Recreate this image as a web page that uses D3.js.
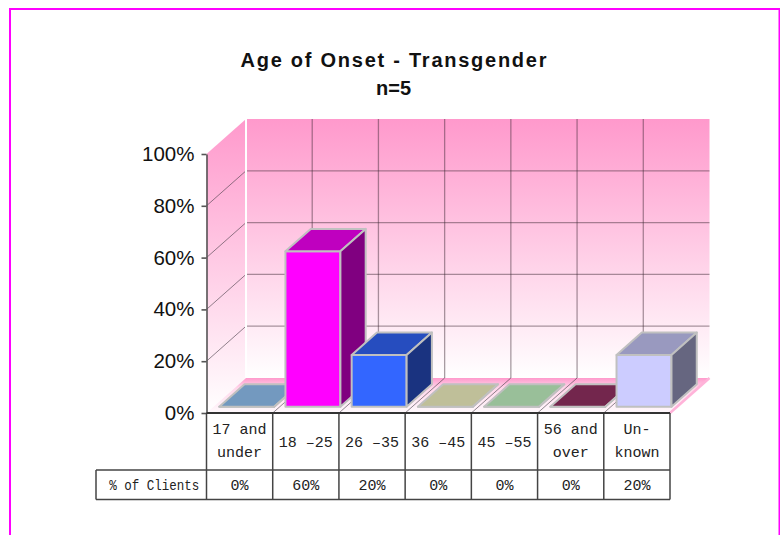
<!DOCTYPE html>
<html>
<head>
<meta charset="utf-8">
<script src="https://cdn.jsdelivr.net/npm/d3@7"></script>
<style>
  html, body { margin: 0; padding: 0; background: #fff; }
  svg { display: block; }
</style>
</head>
<body>
<svg id="chart" width="780" height="535"></svg>
<script>
// ---- data ----
const categories = ["17 and\nunder", "18 –25", "26 –35", "36 –45", "45 –55", "56 and\nover", "Un-\nknown"];
const values = [0, 60, 20, 0, 0, 0, 20];
const yTicks = [0, 20, 40, 60, 80, 100];
const rowHeader = "% of Clients";
const title = "Age of Onset - Transgender";
const subtitle = "n=5";
const palette = ["#99ccff", "#ff00ff", "#3366ff", "#ffffcc", "#ccffcc", "#993366", "#ccccff"];

// ---- layout ----
const svg = d3.select("#chart");
const x0 = 206.5, x1 = 670;        // front edge of the plot
const yBase = 413, yTop = 154;     // 0% and 100% on the front plane
const DX = 39.5, DY = -35;         // depth of the box
const F0 = 0.18, F1 = 0.82;        // bar front/back as share of depth

const x = d3.scaleBand().domain(d3.range(categories.length)).range([x0, x1])
  .paddingInner(0.17).paddingOuter(0.085);
const xCat = d3.scaleBand().domain(d3.range(categories.length)).range([x0, x1]);
const y = d3.scaleLinear().domain([0, 100]).range([yBase, yTop]);
const bounds = d3.range(categories.length + 1).map(i => x0 + i * xCat.step());

const shade = (c, k) => { const r = d3.rgb(c); return d3.rgb(r.r * k, r.g * k, r.b * k).formatHex(); };
const pts = a => a.map(p => p.join(",")).join(" ");

// ---- gradients ----
const defs = svg.append("defs");
function grad(id, ya, yb, stops) {
  const g = defs.append("linearGradient").attr("id", id)
    .attr("gradientUnits", "userSpaceOnUse")
    .attr("x1", 0).attr("x2", 0).attr("y1", ya).attr("y2", yb);
  stops.forEach(([o, c]) => g.append("stop").attr("offset", o).attr("stop-color", c));
}
grad("backWall", y(100) + DY, yBase + DY, [[0, "#ff99cc"], [1, "#ffffff"]]);
grad("sideWall", y(100) + DY, yBase, [[0, "#ff99cc"], [1, "#ffffff"]]);
grad("floorFill", yBase + DY, yBase, [[0, "#ff99cc"], [0.28, "#ffd6ea"], [1, "#fffafd"]]);

// ---- frame ----
svg.append("rect").attr("x", 10).attr("y", 9).attr("width", 769.5).attr("height", 600)
  .attr("fill", "none").attr("stroke", "#ff00ff").attr("stroke-width", 2);

// ---- title ----
svg.append("text").attr("x", 393.5).attr("y", 67)
  .attr("text-anchor", "middle").attr("font-family", "Liberation Sans, Arial, sans-serif")
  .attr("font-weight", "bold").attr("font-size", 20).attr("fill", "#111")
  .attr("textLength", 306).attr("lengthAdjust", "spacing")
  .text(title);
svg.append("text").attr("x", 393.5).attr("y", 95)
  .attr("text-anchor", "middle").attr("font-family", "Liberation Sans, Arial, sans-serif")
  .attr("font-weight", "bold").attr("font-size", 20).attr("fill", "#111")
  .text(subtitle);

// ---- walls ----
svg.append("polygon")
  .attr("points", pts([[x0 + DX, y(100) + DY], [x1 + DX, y(100) + DY], [x1 + DX, yBase + DY], [x0 + DX, yBase + DY]]))
  .attr("fill", "url(#backWall)");
svg.append("polygon")
  .attr("points", pts([[x0, y(100)], [x0 + DX, y(100) + DY], [x0 + DX, yBase + DY], [x0, yBase]]))
  .attr("fill", "url(#sideWall)");

const grid = svg.append("g").attr("fill", "none");
// horizontal lines on the back wall
grid.selectAll(".hb").data(yTicks.filter(t => t > 0 && t < 100)).join("line")
  .attr("x1", x0 + DX).attr("x2", x1 + DX)
  .attr("y1", d => y(d) + DY).attr("y2", d => y(d) + DY)
  .attr("stroke", "rgba(60,40,50,0.45)").attr("stroke-width", 1.3);
// vertical lines on the back wall
grid.selectAll(".vb").data(bounds.slice(1, -1)).join("line")
  .attr("x1", d => d + DX).attr("x2", d => d + DX)
  .attr("y1", y(100) + DY).attr("y2", yBase + DY)
  .attr("stroke", "rgba(60,40,50,0.45)").attr("stroke-width", 1.3);
// diagonals on the side wall
grid.selectAll(".hs").data(yTicks.filter(t => t > 0 && t < 100)).join("line")
  .attr("x1", x0).attr("x2", x0 + DX)
  .attr("y1", d => y(d)).attr("y2", d => y(d) + DY)
  .attr("stroke", "rgba(70,60,70,0.6)").attr("stroke-width", 1);
// corner between the two walls
grid.append("line").attr("x1", x0 + DX).attr("x2", x0 + DX)
  .attr("y1", y(100) + DY).attr("y2", yBase + DY)
  .attr("stroke", "#ffffff").attr("stroke-width", 2);

// ---- floor ----
svg.append("polygon")
  .attr("points", pts([[x0, yBase], [x1, yBase], [x1 + DX, yBase + DY], [x0 + DX, yBase + DY]]))
  .attr("fill", "url(#floorFill)");
svg.append("line").attr("x1", x1).attr("y1", yBase).attr("x2", x1 + DX).attr("y2", yBase + DY)
  .attr("stroke", "#ffb3d9").attr("stroke-width", 2.5);
svg.append("g").selectAll("line").data(bounds.slice(1, -1)).join("line")
  .attr("x1", d => d).attr("y1", yBase).attr("x2", d => d + DX).attr("y2", yBase + DY)
  .attr("stroke", "rgba(70,60,70,0.6)").attr("stroke-width", 1);

// ---- bars ----
const dx = DX * (F1 - F0), dy = DY * (F1 - F0);
const bars = svg.append("g").attr("stroke", "#c0c0c0").attr("stroke-width", 2)
  .attr("stroke-linejoin", "round");
values.forEach((v, i) => {
  const L = x(i) + DX * F0, R = L + x.bandwidth();
  const B = y(0) + DY * F0, T = y(v) + DY * F0;
  const g = bars.append("g");
  g.append("polygon").attr("points", pts([[L, B], [R, B], [R, T], [L, T]]))
    .attr("fill", palette[i]);
  g.append("polygon").attr("points", pts([[L, T], [R, T], [R + dx, T + dy], [L + dx, T + dy]]))
    .attr("fill", shade(palette[i], 0.75));
  g.append("polygon").attr("points", pts([[R, T], [R + dx, T + dy], [R + dx, B + dy], [R, B]]))
    .attr("fill", shade(palette[i], 0.5));
});

// ---- value axis ----
const yAxis = svg.append("g").attr("transform", `translate(${x0},0)`)
  .call(d3.axisLeft(y).tickValues(yTicks).tickFormat(d => d + "%")
    .tickSize(5).tickSizeOuter(0).tickPadding(7));
yAxis.select(".domain").attr("stroke", "#555").attr("stroke-width", 1.6);
yAxis.selectAll(".tick line").attr("stroke", "#555").attr("stroke-width", 1.6);
yAxis.selectAll(".tick text").attr("font-family", "Liberation Sans, Arial, sans-serif")
  .attr("font-size", 20.5).attr("fill", "#111");

// ---- data table ----
const rowTop = yBase, rowMid = 470, rowBot = 499.5, headLeft = 96;
const tbl = svg.append("g").attr("stroke", "#444").attr("stroke-width", 1.5).attr("fill", "none");
tbl.selectAll(".col").data(bounds).join("line")
  .attr("x1", d => d).attr("x2", d => d).attr("y1", rowTop).attr("y2", rowBot);
tbl.append("line").attr("x1", headLeft).attr("x2", headLeft).attr("y1", rowMid).attr("y2", rowBot);
tbl.append("line").attr("x1", headLeft).attr("x2", x1).attr("y1", rowMid).attr("y2", rowMid);
tbl.append("line").attr("x1", headLeft).attr("x2", x1).attr("y1", rowBot).attr("y2", rowBot);
// baseline of the plot
svg.append("line").attr("x1", x0).attr("x2", x1).attr("y1", yBase).attr("y2", yBase)
  .attr("stroke", "#333").attr("stroke-width", 2);

const txt = svg.append("g").attr("font-family", "Liberation Mono, Courier New, monospace")
  .attr("font-size", 15).attr("fill", "#222").attr("text-anchor", "middle");
categories.forEach((c, i) => {
  const lines = c.split("\n");
  const cx = xCat(i) + xCat.bandwidth() / 2;
  const t = txt.append("text").attr("x", cx);
  if (lines.length === 1) {
    t.attr("y", 447).text(lines[0]);
  } else {
    lines.forEach((ln, k) => t.append("tspan").attr("x", cx).attr("y", 433.5 + k * 23.5).text(ln));
  }
  txt.append("text").attr("x", cx).attr("y", 490).text(values[i] + "%");
});
txt.append("text").attr("x", (headLeft + x0) / 2 + 3).attr("y", 490)
  .attr("font-size", 14).attr("textLength", 90).attr("lengthAdjust", "spacingAndGlyphs")
  .text(rowHeader);
</script>
</body>
</html>
